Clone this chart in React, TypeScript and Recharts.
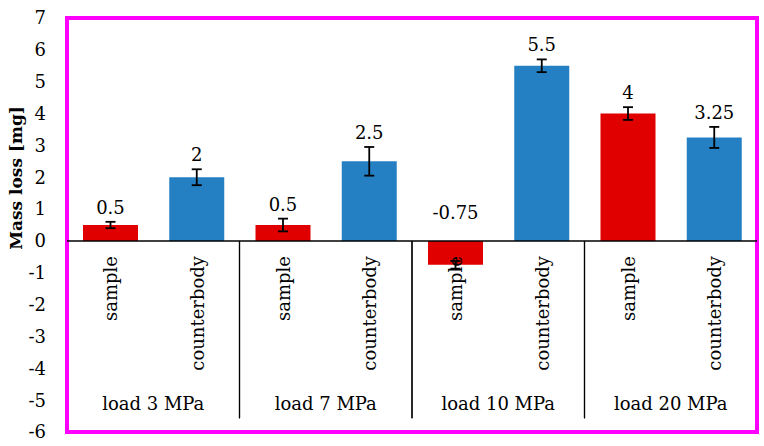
import React from 'react';
import {
    BarChart,
    Bar,
    Cell,
    XAxis,
    YAxis,
    ErrorBar,
    LabelList,
    ReferenceLine,
    ReferenceArea,
} from 'recharts';

const groups = ['load 3 MPa', 'load 7 MPa', 'load 10 MPa', 'load 20 MPa'];
const parts = ['sample', 'counterbody'];
const sampleLoss = [0.5, 0.5, -0.75, 4];
const sampleErr = [0.1, 0.2, 0.12, 0.2];
const counterbodyLoss = [2, 2.5, 5.5, 3.25];
const counterbodyErr = [0.25, 0.45, 0.2, 0.33];
const yTicks = [-6, -5, -4, -3, -2, -1, 0, 1, 2, 3, 4, 5, 6, 7];

const RED = '#e00000';
const BLUE = '#2580c3';
const FONT = '"DejaVu Serif", serif';

type Row = { key: string; part: string; group: string; value: number; err: number; color: string };

const rows: Row[] = [];
groups.forEach((g, i) => {
    rows.push({ key: 's' + i, part: parts[0], group: g, value: sampleLoss[i], err: sampleErr[i], color: RED });
    rows.push({ key: 'c' + i, part: parts[1], group: g, value: counterbodyLoss[i], err: counterbodyErr[i], color: BLUE });
});

const PartTick = (props: any) => {
    const { x, y, payload } = props;
    const row = rows[payload.index];
    return (
        <text
            transform={`translate(${x},${y - 176}) rotate(-90)`}
            textAnchor='end'
            dy='0.4em'
            fontFamily={FONT}
            fontSize={18}
            fill='#000'
        >
            {row ? row.part : ''}
        </text>
    );
};

const ValueLabel = (props: any) => {
    const { x, y, width, height, index } = props;
    const row = rows[index];
    if (!row) return null;
    const zeroY = y + height;
    const ppu = Math.abs(height / row.value);
    const base = row.value >= 0 ? zeroY - (row.value + row.err) * ppu - 8 : zeroY - 22;
    return (
        <text x={x + width / 2} y={base} textAnchor='middle' fontFamily={FONT} fontSize={18} fill='#000'>
            {String(row.value)}
        </text>
    );
};

// group cell: divider lines on both sides + group name near the bottom
const groupShape = (name: string) => (props: any) => {
    const { x, y, width, height } = props;
    return (
        <g>
            <line x1={x} y1={y} x2={x} y2={y + height} stroke='#000' strokeWidth={1.2} />
            <line x1={x + width} y1={y} x2={x + width} y2={y + height} stroke='#000' strokeWidth={1.2} />
            <text x={x + width / 2} y={y + height - 8} textAnchor='middle' fontFamily={FONT} fontSize={18} fill='#000'>
                {name}
            </text>
        </g>
    );
};

const App = () => {
    const first = rows[0].key;
    const last = rows[rows.length - 1].key;
    return (
        <div style={{ position: 'absolute', left: 0, top: 0 }}>
            <BarChart
                width={764}
                height={446}
                data={rows}
                margin={{ top: 18, right: 7, bottom: 0, left: 0 }}
                barCategoryGap={0}
            >
                <XAxis
                    dataKey='key'
                    height={14}
                    axisLine={false}
                    tickLine={false}
                    tickSize={0}
                    tickMargin={0}
                    interval={0}
                    tick={<PartTick />}
                />
                <YAxis
                    width={67}
                    domain={[-6, 7]}
                    ticks={yTicks}
                    interval={0}
                    axisLine={false}
                    tickLine={false}
                    tickSize={0}
                    tickMargin={21}
                    tick={{ fontFamily: FONT, fontSize: 18, fill: '#000' }}
                    label={{
                        content: () => (
                            <text
                                transform='translate(22,178) rotate(-90)'
                                textAnchor='middle'
                                fontFamily={FONT}
                                fontWeight='bold'
                                fontSize={17}
                                fill='#000'
                            >
                                Mass loss  [mg]
                            </text>
                        ),
                    }}
                />
                <Bar dataKey='value' barSize={55} isAnimationActive={false}>
                    {rows.map((r) => (
                        <Cell key={r.key} fill={r.color} />
                    ))}
                    <ErrorBar dataKey='err' width={5} strokeWidth={1.8} stroke='#000' direction='y' />
                    <LabelList dataKey='value' content={<ValueLabel />} />
                </Bar>
                {groups.map((g, i) => (
                    <ReferenceArea
                        key={g}
                        x1={rows[i * 2].key}
                        x2={rows[i * 2 + 1].key}
                        y1={-5.57}
                        y2={0}
                        ifOverflow='visible'
                        shape={groupShape(g)}
                    />
                ))}
                <ReferenceLine y={0} stroke='#000' strokeWidth={1.5} ifOverflow='visible' />
                {/* plot frame */}
                <ReferenceArea
                    x1={first}
                    x2={last}
                    y1={-6}
                    y2={7}
                    fill='none'
                    stroke='#ff00ff'
                    strokeWidth={4}
                    ifOverflow='visible'
                />
            </BarChart>
        </div>
    );
};

export default App;
